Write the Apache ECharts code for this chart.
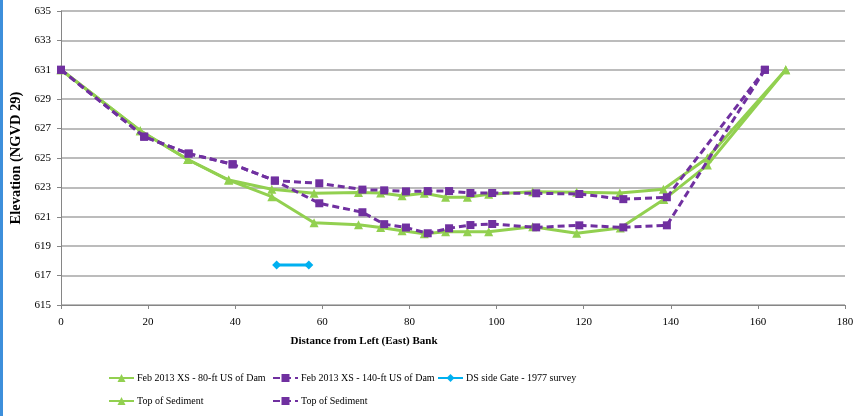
<!DOCTYPE html>
<html><head><meta charset="utf-8">
<script src="https://cdn.jsdelivr.net/npm/echarts@6/dist/echarts.min.js"></script>
<style>html,body{margin:0;padding:0;background:#fff}#c{width:859px;height:416px}</style>
</head><body><div id="c"></div>
<script>
const xTicks = [0,20,40,60,80,100,120,140,160,180];
const yTicks = [615,617,619,621,623,625,627,629,631,633,635];
const seriesNames = ['Feb 2013 XS - 80-ft US of Dam','Feb 2013 XS - 140-ft US of Dam','DS side Gate - 1977 survey','Top of Sediment (A)','Top of Sediment (B)'];
const xs80 = [[0,631],[18.2,626.85],[29.1,624.9],[38.5,623.5],[48.4,622.37],[58.1,620.6],[68.3,620.46],[73.4,620.27],[78.3,620.05],[83.4,619.85],[88.3,619.99],[93.3,619.99],[98.2,619.99],[108.3,620.33],[118.4,619.88],[128.4,620.24],[138.4,622.17],[148.4,624.52],[166.4,631]];
const xs140 = [[0,631],[19.1,626.45],[29.3,625.3],[39.4,624.57],[49.1,623.46],[59.3,621.92],[69.2,621.31],[74.2,620.5],[79.2,620.27],[84.2,619.88],[89.1,620.22],[94.0,620.44],[99.0,620.51],[109.1,620.28],[119.0,620.42],[129.1,620.28],[139.1,620.42],[161.6,631]];
const gate1977 = [[49.5,617.72],[56.9,617.72]];
const sedGreen = [[0,631],[18.2,626.85],[29.1,624.9],[38.5,623.5],[48.4,622.87],[58.1,622.6],[68.3,622.65],[73.4,622.62],[78.3,622.43],[83.4,622.6],[88.3,622.33],[93.3,622.33],[98.2,622.53],[108.3,622.7],[118.4,622.67],[128.3,622.62],[138.3,622.87],[148.4,625.0],[166.4,631]];
const sedPurple = [[0,631],[19.1,626.45],[29.3,625.3],[39.4,624.57],[49.1,623.46],[59.3,623.28],[69.2,622.85],[74.2,622.8],[79.2,622.73],[84.2,622.75],[89.1,622.75],[94.0,622.62],[99.0,622.62],[109.1,622.6],[119.0,622.55],[129.1,622.2],[139.1,622.33],[161.6,631]];

const GREEN = '#92D050', PURPLE = '#7030A0', BLUE = '#00B0F0';
const FONT = 'Liberation Serif';
const chart = echarts.init(document.getElementById('c'), null, {renderer:'canvas'});
const fmt = n => n.startsWith('Top of Sediment') ? 'Top of Sediment' : n;
const legendBase = {orient:'vertical', itemWidth:25, itemHeight:10, itemGap:13, top:373, padding:0, formatter:fmt,
  textStyle:{fontFamily:FONT, fontSize:10, color:'#000', padding:[0,0,0,-2]}, selectedMode:false};
function green(name, data, z){return {name, type:'line', data, z, symbol:'triangle', symbolSize:9,
  itemStyle:{color:GREEN}, lineStyle:{color:GREEN, width:3}};}
function purple(name, data, z){return {name, type:'line', data, z, symbol:'rect', symbolSize:8,
  itemStyle:{color:PURPLE}, lineStyle:{color:PURPLE, width:3, type:[7,4]}};}
chart.setOption({
  animation:false,
  graphic:[{type:'rect', shape:{x:0,y:0,width:3,height:416}, style:{fill:'#3D8FDB'}}],
  grid:{left:61, right:14, top:11, bottom:111},
  legend:[
    Object.assign({}, legendBase, {left:108, data:[seriesNames[0], seriesNames[3]]}),
    Object.assign({}, legendBase, {left:272, data:[seriesNames[1], seriesNames[4]]}),
    Object.assign({}, legendBase, {left:437, data:[seriesNames[2]]})
  ],
  xAxis:{type:'value', min:0, max:180, interval:20,
    name:'Distance from Left (East) Bank', nameLocation:'middle', nameGap:31,
    nameTextStyle:{fontFamily:FONT, fontWeight:'bold', fontSize:11, color:'#000', padding:[0,178,0,0]},
    axisLine:{show:true, lineStyle:{color:'#868686', width:1}},
    axisTick:{show:true, length:4, lineStyle:{color:'#868686'}},
    axisLabel:{fontFamily:FONT, fontSize:11, color:'#000', margin:12, formatter:v=>String(v)},
    splitLine:{show:false}},
  yAxis:{type:'value', min:615, max:635, interval:2,
    name:'Elevation (NGVD 29)', nameLocation:'middle', nameGap:37, nameRotate:90,
    nameTextStyle:{fontFamily:FONT, fontWeight:'bold', fontSize:14.5, color:'#000'},
    axisLine:{show:true, lineStyle:{color:'#868686', width:1}},
    axisTick:{show:true, length:4, lineStyle:{color:'#868686'}},
    axisLabel:{fontFamily:FONT, fontSize:11, color:'#000', margin:10, formatter:v=>String(v)},
    splitLine:{show:true, lineStyle:{color:'#a6a6a6', width:1.5}}},
  series:[
    green(seriesNames[0], xs80, 3),
    purple(seriesNames[1], xs140, 4),
    {name:seriesNames[2], type:'line', data:gate1977, symbol:'diamond', symbolSize:9, z:5,
      itemStyle:{color:BLUE}, lineStyle:{color:BLUE, width:3}},
    green(seriesNames[3], sedGreen, 3),
    purple(seriesNames[4], sedPurple, 4)
  ]
});
</script></body></html>
